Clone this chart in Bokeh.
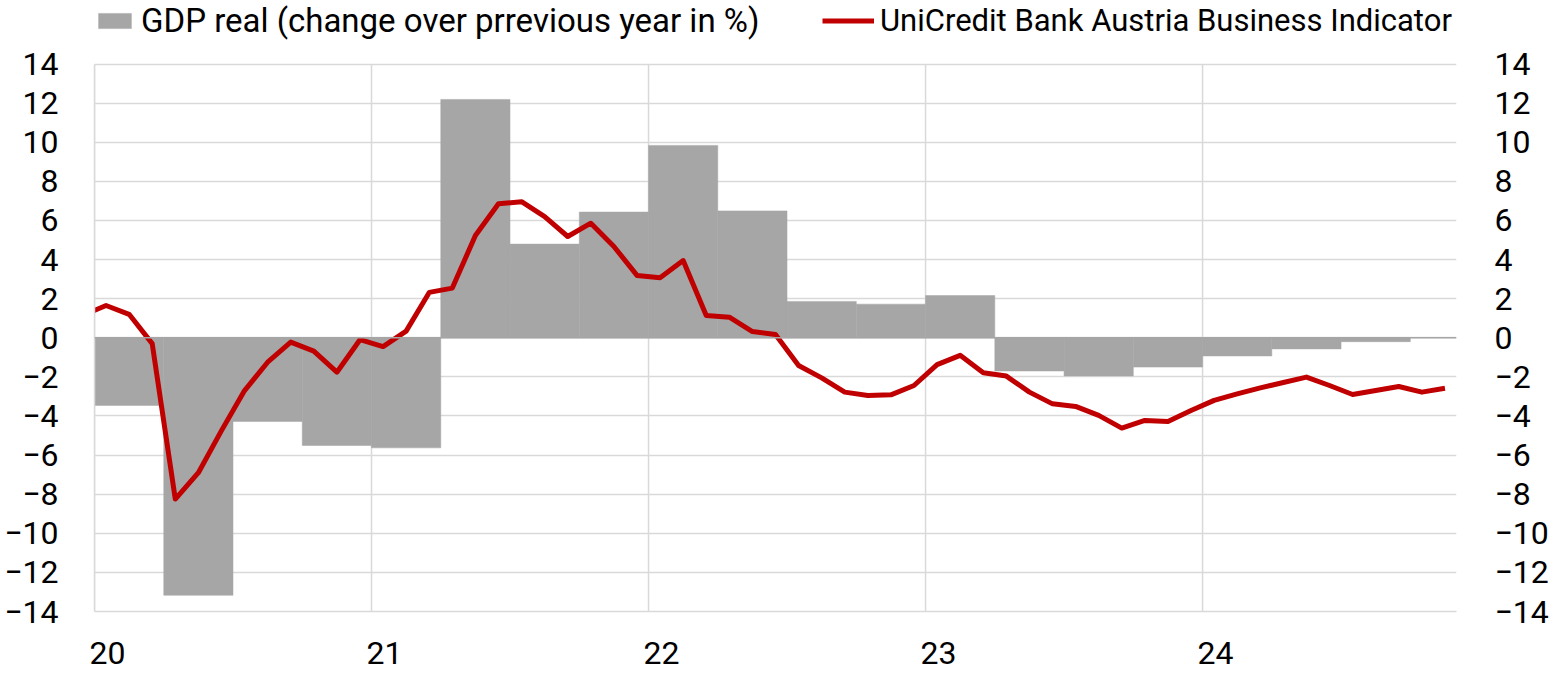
from bokeh.plotting import figure
from bokeh.models import (Range1d, LinearAxis, FixedTicker, Legend, LegendItem, Span)
from bokeh.embed import file_html
from bokeh.resources import INLINE

# ---------------- data ----------------
# UniCredit Bank Austria Business Indicator, monthly Dec 2019 .. Nov 2024
ubai_months = (["2019-12"] +
               [f"{y}-{m:02d}" for y in (2020, 2021, 2022, 2023) for m in range(1, 13)] +
               [f"2024-{m:02d}" for m in range(1, 12)])
ubai_values = [1.15,
               1.65, 1.2, -0.3, -8.25, -6.9, -4.75, -2.7, -1.25, -0.22, -0.68, -1.76, -0.1,
               -0.45, 0.34, 2.32, 2.54, 5.23, 6.85, 6.96, 6.2, 5.18, 5.86, 4.67, 3.19,
               3.07, 3.95, 1.14, 1.05, 0.32, 0.17, -1.42, -2.05, -2.78, -2.95, -2.92, -2.44,
               -1.37, -0.9, -1.79, -1.96, -2.78, -3.38, -3.51, -3.97, -4.62, -4.23, -4.28, -3.72,
               -3.2, -2.87, -2.56, -2.29, -2.01, -2.44, -2.9, -2.7, -2.49, -2.78, -2.58]

# GDP real, change over previous year in %, quarterly Q1 2020 .. Q3 2024
gdp_quarters = [f"{y}Q{q}" for y in (2020, 2021, 2022, 2023) for q in (1, 2, 3, 4)] + \
               ["2024Q1", "2024Q2", "2024Q3"]
gdp_values = [-3.46, -13.17, -4.28, -5.51, -5.63, 12.19, 4.79, 6.43, 9.84, 6.49,
              1.86, 1.72, 2.16, -1.7, -1.95, -1.5, -0.93, -0.57, -0.2]

year_labels = ["20", "21", "22", "23", "24"]
y_ticks = list(range(-14, 15, 2))

# ---------------- positions (month index from Jan 2020) ----------------
def month_index(s):
    y, m = s.split("-")
    return (int(y) - 2020) * 12 + int(m) - 1

ubai_x = [month_index(s) + 0.5 for s in ubai_months]
gdp_x = [(int(q[:4]) - 2020) * 12 + (int(q[-1]) - 1) * 3 + 1.5 for q in gdp_quarters]
year_ticks = [i * 12 for i in range(len(year_labels))]
label_pos = [t + 0.56 for t in year_ticks]   # labels start at the year boundary
y_lo, y_hi = min(y_ticks), max(y_ticks)

FONT = "Roboto"
FS = "32px"
GRID = "#D9D9D9"

p = figure(width=1551, height=673, output_backend="svg", toolbar_location=None,
           x_range=Range1d(0, 59), y_range=Range1d(y_lo, 17.25),
           min_border_left=94, min_border_right=92, min_border_top=0,
           min_border_bottom=62, outline_line_color=None,
           background_fill_color="white", border_fill_color="white")

# vertical year grid lines (only inside the value range)
p.segment(x0=year_ticks, x1=year_ticks, y0=y_lo, y1=y_hi,
          line_color=GRID, line_width=1.5)

bars = p.vbar(x=gdp_x, top=gdp_values, bottom=0, width=3,
              fill_color="#A6A6A6", line_color="#A6A6A6", line_width=0.5)
p.add_layout(Span(location=0, dimension="width", line_color="#A6A6A6", line_width=1.5))
line = p.line(x=ubai_x, y=ubai_values, line_color="#C00000", line_width=5,
              line_join="round")

# axes
for ax in (p.xaxis[0], p.yaxis[0]):
    ax.major_label_text_font = FONT
    ax.major_label_text_font_size = FS
    ax.major_label_text_color = "black"
    ax.major_tick_line_color = None
    ax.minor_tick_line_color = None

p.xaxis[0].ticker = FixedTicker(ticks=label_pos)
p.xaxis[0].major_label_overrides = {t: l for t, l in zip(label_pos, year_labels)}
p.xaxis[0].major_label_standoff = 24
p.xaxis[0].axis_line_color = GRID
p.xaxis[0].axis_line_width = 1.5

p.yaxis[0].ticker = FixedTicker(ticks=y_ticks)
p.yaxis[0].major_label_standoff = 30
p.yaxis[0].bounds = (y_lo, y_hi)
p.yaxis[0].axis_line_color = GRID
p.yaxis[0].axis_line_width = 1.5

ry = LinearAxis(ticker=FixedTicker(ticks=y_ticks))
ry.major_label_text_font = FONT
ry.major_label_text_font_size = FS
ry.major_label_text_color = "black"
ry.major_tick_line_color = None
ry.minor_tick_line_color = None
ry.axis_line_color = None
ry.major_label_standoff = 32
p.add_layout(ry, "right")

p.xgrid.visible = False
p.ygrid.ticker = FixedTicker(ticks=y_ticks)
p.ygrid.grid_line_color = GRID
p.ygrid.grid_line_width = 1.5

# legends (inside the frame, above the value range)
def make_legend(label, r, loc, gw, fs):
    lg = Legend(items=[LegendItem(label=label, renderers=[r])], location=loc,
                orientation="horizontal", glyph_width=gw, glyph_height=19,
                label_standoff=6, padding=0, margin=0, spacing=0,
                border_line_color=None, background_fill_alpha=0,
                label_text_font=FONT, label_text_font_size=fs,
                label_text_color="black")
    p.add_layout(lg, "center")

make_legend("GDP real (change over prrevious year in %)", bars, (0, 571), 41, "33px")
make_legend("UniCredit Bank Austria Business Indicator", line, (728, 572), 52, "31px")

open("out.html", "w").write(file_html(p, INLINE))
